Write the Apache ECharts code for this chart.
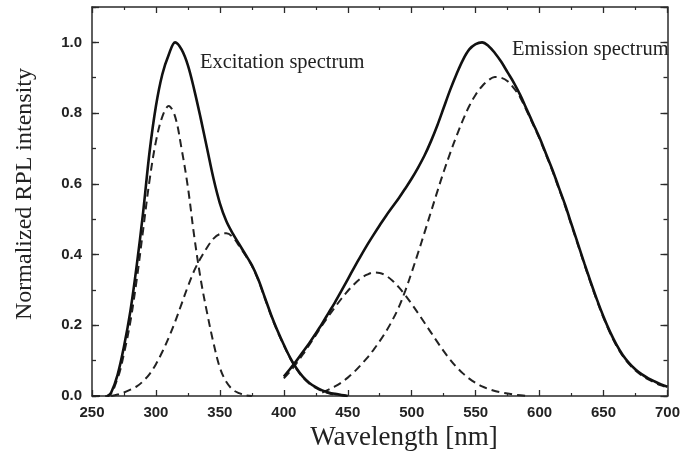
<!DOCTYPE html>
<html>
<head>
<meta charset="utf-8">
<script src="https://cdn.jsdelivr.net/npm/echarts@6/dist/echarts.min.js"></script>
<style>
html,body{margin:0;padding:0;background:#fff;}
#chart{width:683px;height:463px;}
</style>
</head>
<body>
<div id="chart"></div>
<script>
// ---- Data (wavelength nm, normalized intensity) ----
var excitationTotal = [[262,0],[265,0.01],[270,0.06],[275,0.14],[280,0.24],[285,0.37],[290,0.52],[295,0.69],[300,0.82],[305,0.91],[310,0.965],[315,1.0],[320,0.98],[325,0.935],[330,0.865],[335,0.785],[340,0.70],[345,0.615],[350,0.545],[355,0.495],[360,0.46],[365,0.43],[370,0.40],[375,0.37],[380,0.33],[385,0.28],[390,0.23],[395,0.185],[400,0.145],[405,0.108],[410,0.078],[415,0.054],[420,0.037],[425,0.025],[430,0.016],[435,0.01],[440,0.006],[445,0.003],[450,0]];
var excitationBand1 = [[250,0],[262,0],[270,0.05],[275,0.12],[280,0.21],[285,0.33],[290,0.47],[295,0.61],[300,0.72],[305,0.79],[310,0.82],[315,0.79],[320,0.70],[325,0.59],[330,0.45],[335,0.33],[340,0.235],[345,0.15],[350,0.08],[355,0.04],[360,0.018],[365,0.008],[370,0.002],[375,0]];
var excitationBand2 = [[265,0],[270,0.004],[275,0.01],[280,0.018],[285,0.027],[290,0.042],[295,0.062],[300,0.09],[305,0.125],[310,0.165],[315,0.21],[320,0.26],[325,0.31],[330,0.355],[335,0.39],[340,0.42],[345,0.445],[350,0.458],[355,0.46],[360,0.45],[365,0.425],[370,0.398],[375,0.368],[380,0.328],[385,0.278],[390,0.228],[395,0.183],[400,0.143],[405,0.106],[410,0.076],[415,0.052],[420,0.035],[425,0.023],[430,0.014],[435,0.008],[440,0.004],[445,0.002],[450,0]];
var emissionTotal = [[400,0.055],[405,0.077],[410,0.1],[415,0.125],[420,0.15],[425,0.177],[430,0.205],[435,0.235],[440,0.265],[445,0.297],[450,0.33],[455,0.363],[460,0.395],[465,0.426],[470,0.455],[475,0.483],[480,0.51],[485,0.535],[490,0.56],[495,0.587],[500,0.615],[505,0.646],[510,0.68],[515,0.72],[520,0.765],[525,0.815],[530,0.865],[535,0.91],[540,0.95],[545,0.98],[550,0.995],[555,1.0],[560,0.99],[565,0.97],[570,0.945],[575,0.915],[580,0.885],[585,0.85],[590,0.81],[595,0.77],[600,0.73],[605,0.685],[610,0.64],[615,0.59],[620,0.54],[625,0.485],[630,0.43],[635,0.375],[640,0.322],[645,0.271],[650,0.224],[655,0.182],[660,0.146],[665,0.116],[670,0.093],[675,0.075],[680,0.061],[685,0.05],[690,0.041],[695,0.033],[700,0.026]];
var emissionBand1 = [[400,0.05],[405,0.07],[410,0.093],[415,0.118],[420,0.145],[425,0.172],[430,0.2],[435,0.226],[440,0.251],[445,0.275],[450,0.297],[455,0.316],[460,0.332],[465,0.343],[470,0.349],[475,0.348],[480,0.34],[485,0.326],[490,0.307],[495,0.285],[500,0.26],[505,0.234],[510,0.207],[515,0.18],[520,0.153],[525,0.127],[530,0.103],[535,0.082],[540,0.064],[545,0.049],[550,0.037],[555,0.027],[560,0.02],[565,0.014],[570,0.01],[575,0.007],[580,0.004],[585,0.002],[590,0]];
var emissionBand2 = [[430,0.01],[435,0.018],[440,0.027],[445,0.038],[450,0.052],[455,0.068],[460,0.087],[465,0.107],[470,0.13],[475,0.155],[480,0.183],[485,0.215],[490,0.252],[495,0.298],[500,0.35],[505,0.405],[510,0.462],[515,0.52],[520,0.578],[525,0.634],[530,0.686],[535,0.735],[540,0.78],[545,0.82],[550,0.852],[555,0.876],[560,0.893],[565,0.902],[570,0.9],[575,0.89],[580,0.87],[585,0.843],[590,0.806],[595,0.767],[600,0.727],[605,0.682],[610,0.637],[615,0.587],[620,0.537],[625,0.482],[630,0.427],[635,0.372],[640,0.319],[645,0.268],[650,0.221],[655,0.179],[660,0.143],[665,0.113],[670,0.09],[675,0.072],[680,0.058],[685,0.047],[690,0.038],[695,0.03],[700,0.024]];
var xTitle = 'Wavelength [nm]';
var yTitle = 'Normalized RPL intensity';
var annotations = ['Excitation spectrum', 'Emission spectrum'];

var AX = '#2a2a2a';
var chart = echarts.init(document.getElementById('chart'), null, {renderer: 'canvas'});

function xAx(pos, showLabel) {
  return {
    type: 'value', position: pos, min: 250, max: 700, interval: 50,
    axisLine: {show: true, onZero: false, lineStyle: {color: AX, width: 1.5}},
    axisTick: {show: true, inside: true, length: 6, lineStyle: {color: AX, width: 1.3}},
    minorTick: {show: true, splitNumber: 2, length: 3, lineStyle: {color: AX, width: 1.2}},
    splitLine: {show: false},
    axisLabel: {show: showLabel, margin: 9, fontSize: 15, fontWeight: 'bold', color: '#222', fontFamily: 'Liberation Sans'}
  };
}
function yAx(pos, interval, len, showLine, showLabel) {
  return {
    type: 'value', position: pos, min: 0, max: 1.1, interval: interval,
    axisLine: {show: showLine, onZero: false, lineStyle: {color: AX, width: 1.5}},
    axisTick: {show: true, inside: true, length: len, lineStyle: {color: AX, width: 1.3}},
    splitLine: {show: false},
    axisLabel: {show: showLabel, margin: 10, fontSize: 15, fontWeight: 'bold', color: '#222', fontFamily: 'Liberation Sans',
      formatter: function (v) { var k = Math.round(v * 10); return (k % 2 === 0 && k <= 10) ? (k / 10).toFixed(1) : ''; }}
  };
}

function line(data, dashed) {
  return {
    type: 'line', data: data, smooth: 0.35, symbol: 'none', xAxisIndex: 0, yAxisIndex: 0,
    z: dashed ? 2 : 3,
    lineStyle: dashed ? {color: '#222', width: 2, type: [8, 5]} : {color: '#111', width: 2.6}
  };
}

chart.setOption({
  animation: false,
  backgroundColor: '#fff',
  grid: {left: 92, right: 14, top: 7, bottom: 67, containLabel: false},
  xAxis: [xAx('bottom', true), xAx('top', false)],
  yAxis: [yAx('left', 0.1, 4, true, true), yAx('left', 0.2, 7, false, false),
          yAx('right', 0.1, 4, true, false), yAx('right', 0.2, 7, false, false)],
  series: [
    line(excitationBand1, true), line(excitationBand2, true),
    line(emissionBand1, true), line(emissionBand2, true),
    line(excitationTotal, false), line(emissionTotal, false)
  ],
  graphic: [
    {type: 'text', x: 404, y: 438, z: 10, style: {text: xTitle, font: '27px "Liberation Serif"', fill: '#222', textAlign: 'center', textVerticalAlign: 'middle'}},
    {type: 'text', x: 25, y: 194, rotation: Math.PI / 2, z: 10, style: {text: yTitle, font: '24px "Liberation Serif"', fill: '#222', textAlign: 'center', textVerticalAlign: 'middle'}},
    {type: 'text', left: 200, top: 52, z: 10, style: {text: annotations[0], font: '20.5px "Liberation Serif"', fill: '#222'}},
    {type: 'text', left: 512, top: 39, z: 10, style: {text: annotations[1], font: '20.5px "Liberation Serif"', fill: '#222'}},
    {type: 'rect', left: 670, top: 30, z: 11, shape: {width: 13, height: 40}, style: {fill: '#fff'}}
  ]
});
</script>
</body>
</html>
